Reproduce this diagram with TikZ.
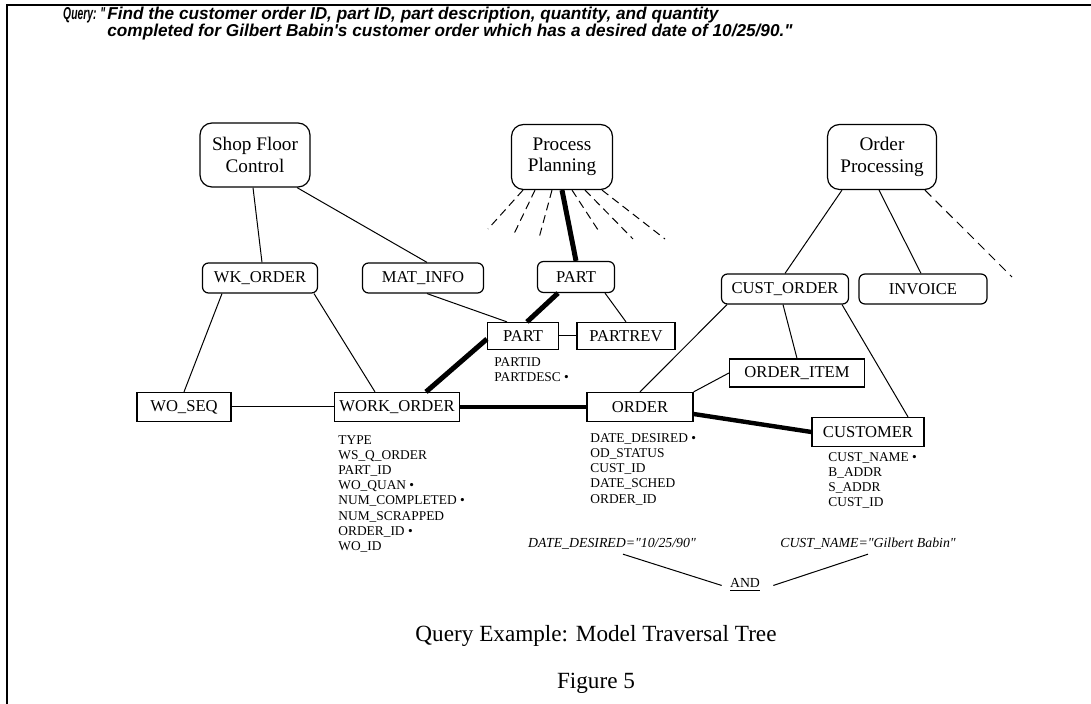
\documentclass[tikz,border=0pt]{standalone}
\usepackage{fontspec}
\setmainfont{Liberation Serif}
\newfontfamily\qfont{Liberation Sans}
\newfontfamily\condfont{Liberation Serif}
\tikzset{ent/.style = {draw, line width = 0.6pt, inner sep = 0, font = \fontsize{8.3}{9}\selectfont},
  rent/.style = {ent, rounded corners = 3pt},
  app/.style = {ent, rounded corners = 6pt, align = center, font = \fontsize{9.6}{10.6}\selectfont},
  attr/.style = {anchor = north west, inner sep = 0, align = left, font = \fontsize{6.7}{7.6}\selectfont},
  cond/.style = {anchor = base, inner sep = 0, font = \fontsize{6.9}{8}\selectfont\condfont\itshape},
  qtext/.style = {anchor = north west, inner sep = 0, align = left, font = \fontsize{8.6}{8.2}\selectfont\qfont\bfseries\itshape},
  link/.style = {line width = 0.5pt},
  trav/.style = {line width = 2.5pt},
  fan/.style = {line width = 0.5pt, dash pattern = on 4pt off 2.5pt}}

\begin{document}
\begin{tikzpicture}[x = 0.5pt, y = -0.5pt]
      \useasboundingbox (0, 0) rectangle (1091, 704);
      \draw [line width = 0.9pt] (7, 704) -- (7, 5) -- (1091, 5);

      \node [qtext, xscale = 0.6, transform shape] (qlab) at (63, 7) {Query: "};
      \node [qtext] (qtxt) at (107, 7) {Find the customer order ID, part ID, part description, quantity, and quantity\\completed for Gilbert Babin's customer order which has a desired date of 10/25/90."};

      \node [app, minimum width = 55pt, minimum height = 32pt] (sfc) at (255, 155) {Shop Floor\\Control};
      \node [app, minimum width = 50.5pt, minimum height = 32.5pt] (pp) at (562, 157) {Process\\Planning};
      \node [app, minimum width = 54.5pt, minimum height = 32.5pt] (op) at (882, 157) {Order\\Processing};

      \node [rent, minimum width = 57.5pt, minimum height = 15pt] (wko) at (260, 278) {WK\_ORDER};
      \node [rent, minimum width = 60.5pt, minimum height = 15pt] (mat) at (423, 278) {MAT\_INFO};
      \node [rent, minimum width = 38.5pt, minimum height = 15.5pt] (partr) at (576, 277) {PART};
      \node [rent, minimum width = 63.5pt, minimum height = 15pt] (co) at (785, 289) {CUST\_ORDER};
      \node [rent, minimum width = 64pt, minimum height = 15pt] (inv) at (923, 289) {INVOICE};

      \node [ent, minimum width = 35.5pt, minimum height = 13.5pt] (part) at (523, 336) {PART};
      \node [ent, minimum width = 49pt, minimum height = 13.5pt] (prev) at (626, 336) {PARTREV};
      \node [ent, minimum width = 67.5pt, minimum height = 14pt] (oi) at (797, 373) {ORDER\_ITEM};
      \node [ent, minimum width = 47pt, minimum height = 14.5pt] (woseq) at (184, 407) {WO\_SEQ};
      \node [ent, minimum width = 62.5pt, minimum height = 14.5pt] (wo) at (397, 407) {WORK\_ORDER};
      \node [ent, minimum width = 53pt, minimum height = 14.5pt] (ord) at (640, 407) {ORDER};
      \node [ent, minimum width = 56pt, minimum height = 14.5pt] (cust) at (868, 432) {CUSTOMER};

      % attribute lists
      \node [attr] (partattr) at (494, 357) {PARTID\\PARTDESC •};
      \node [attr] (woattr) at (338, 435) {TYPE\\WS\_Q\_ORDER\\PART\_ID\\WO\_QUAN •\\NUM\_COMPLETED •\\NUM\_SCRAPPED\\ORDER\_ID •\\WO\_ID};
      \node [attr] (ordattr) at (590, 433) {DATE\_DESIRED •\\OD\_STATUS\\CUST\_ID\\DATE\_SCHED\\ORDER\_ID};
      \node [attr] (custattr) at (828, 452) {CUST\_NAME •\\B\_ADDR\\S\_ADDR\\CUST\_ID};

      % thin links
      \draw [link] ([xshift = -1pt]sfc.south) -- ([xshift = 1pt]wko.north);
      \draw [link] ([xshift = 21pt]sfc.south) -- ([xshift = 2pt]mat.north);
      \draw [link] ([xshift = -19pt]wko.south) -- (woseq.north);
      \draw [link] ([xshift = 27pt]wko.south) -- ([xshift = -11pt]wo.north);
      \draw [link] (woseq.east) -- (wo.west);
      \draw [link] ([xshift = 2pt]mat.south) -- ([xshift = -8pt]part.north);
      \draw [link] (part.east) -- (prev.west);
      \draw [link] ([xshift = 14.5pt]partr.south) -- (prev.north);
      \draw [link] ([xshift = -20pt]op.south) -- (co.north);
      \draw [link] ([xshift = -1.5pt]op.south) -- ([xshift = -1pt]inv.north);
      \draw [link] ([xshift = -29pt]co.south) -- (ord.north);
      \draw [link] ([xshift = -1pt]co.south) -- (oi.north);
      \draw [link] ([xshift = 28.5pt]co.south) -- ([xshift = 20pt]cust.north);
      \draw [link] (oi.west) -- (ord.north east);

      % dashed links to parts not shown
      \foreach \s/\ex/\ey [count = \i] in {-19.5/488/229, -13.5/513/236, -5/539/238, 5/600/233, 11.5/633/239, 20/665/239} {
        \coordinate (pp\i) at (\ex, \ey);
        \draw [fan] ([xshift = \s pt]pp.south) -- (pp\i);
      }
      \coordinate (op1) at (1012, 277);
      \draw [fan, dash pattern = on 4.5pt off 3pt] ([xshift = 21.5pt]op.south) -- (op1);

      % traversal path
      \draw [trav] (pp.south) -- (partr.north);
      \draw [trav] ([xshift = -9pt]partr.south) -- ([xshift = 2pt]part.north);
      \draw [trav] ([yshift = -1.5pt]part.west) -- ([xshift = 14.5pt]wo.north);
      \draw [trav, line width = 2.2pt] (wo.east) -- (ord.west);
      \draw [trav, line width = 2.2pt] ([yshift = -3.5pt]ord.east) -- (cust.west);

      % conditions
      \node [cond] (dd) at (612, 548) {DATE\_DESIRED="10/25/90"};
      \node [cond] (cn) at (868, 548) {CUST\_NAME="Gilbert Babin"};
      \node [cond, font = \fontsize{6.9}{8}\selectfont] (andop) at (745, 588) {\underline{AND}};
      \draw [link] ([xshift = 5.5pt, yshift = -2pt]dd.south) -- ([xshift = -4pt]andop.west);
      \draw [link] ([xshift = 6.5pt]andop.east) -- ([yshift = -2pt]cn.south);

      \node [anchor = base, inner sep = 0, font = \fontsize{11.6}{13}\selectfont] (cap) at (596, 641) {Query Example: Model Traversal Tree};
      \node [anchor = base, inner sep = 0, font = \fontsize{11.6}{13}\selectfont] (fig) at (596, 688) {Figure 5};
    \end{tikzpicture}
\end{document}
